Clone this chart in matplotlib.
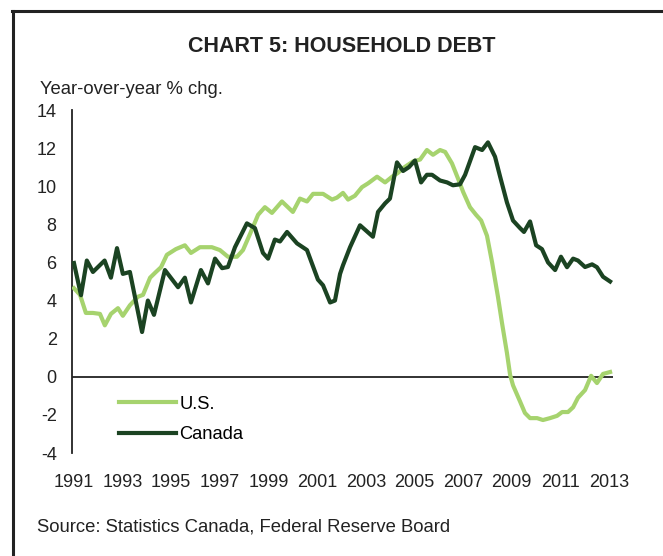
import matplotlib
matplotlib.use("Agg")
import matplotlib.pyplot as plt
from matplotlib.lines import Line2D

plt.rcParams['font.family'] = ['Liberation Sans', 'DejaVu Sans']

# Canada, year-over-year % change
can_year = [1991.00, 1991.29, 1991.53, 1991.78, 1992.26, 1992.52, 1992.77, 1993.01,
            1993.30, 1993.80, 1994.04, 1994.29, 1994.74, 1995.28, 1995.56, 1995.81,
            1996.22, 1996.51, 1996.80, 1997.09, 1997.33, 1997.62, 1998.11, 1998.44,
            1998.77, 1998.98, 1999.26, 1999.47, 1999.76, 2000.17, 2000.58, 2001.03,
            2001.24, 2001.53, 2001.73, 2001.94, 2002.06, 2002.35, 2002.76, 2003.29,
            2003.50, 2003.79, 2003.99, 2004.28, 2004.53, 2004.77, 2005.02, 2005.27,
            2005.51, 2005.72, 2006.05, 2006.34, 2006.58, 2006.87, 2007.08, 2007.49,
            2007.78, 2008.02, 2008.31, 2008.52, 2008.80, 2009.05, 2009.34, 2009.50,
            2009.75, 2010.00, 2010.24, 2010.49, 2010.78, 2011.02, 2011.27, 2011.52,
            2011.72, 2012.01, 2012.30, 2012.50, 2012.75, 2013.04]
can_val = [5.97, 4.28, 6.1, 5.5, 6.1, 5.2, 6.75, 5.4,
           5.5, 2.35, 4.0, 3.25, 5.6, 4.7, 5.2, 3.9,
           5.6, 4.9, 6.2, 5.7, 5.76, 6.8, 8.05, 7.8,
           6.5, 6.2, 7.2, 7.1, 7.6, 7.0, 6.65, 5.1,
           4.8, 3.9, 4.0, 5.4, 5.85, 6.8, 7.95, 7.35,
           8.65, 9.1, 9.35, 11.25, 10.8, 11.0, 11.35, 10.2,
           10.6, 10.6, 10.3, 10.2, 10.05, 10.1, 10.6, 12.05,
           11.9, 12.3, 11.55, 10.5, 9.15, 8.2, 7.8, 7.6,
           8.15, 6.9, 6.7, 6.0, 5.6, 6.3, 5.75, 6.2,
           6.1, 5.76, 5.9, 5.75, 5.25, 5.0]

# U.S., year-over-year % change
us_year = [1991.00, 1991.25, 1991.49, 1991.78, 1992.07, 1992.27, 1992.52, 1992.81,
           1993.01, 1993.30, 1993.63, 1993.84, 1994.13, 1994.37, 1994.58, 1994.82,
           1995.19, 1995.56, 1995.81, 1996.18, 1996.67, 1997.00, 1997.33, 1997.70,
           1997.95, 1998.24, 1998.57, 1998.85, 1999.14, 1999.55, 2000.00, 2000.29,
           2000.58, 2000.83, 2001.24, 2001.61, 2001.81, 2002.06, 2002.27, 2002.55,
           2002.84, 2003.09, 2003.46, 2003.79, 2004.08, 2004.32, 2004.53, 2004.94,
           2005.23, 2005.51, 2005.76, 2006.05, 2006.26, 2006.54, 2006.79, 2007.00,
           2007.28, 2007.53, 2007.74, 2007.98, 2008.19, 2008.43, 2008.60, 2008.80,
           2008.93, 2009.05, 2009.34, 2009.54, 2009.75, 2010.04, 2010.28, 2010.57,
           2010.86, 2011.07, 2011.31, 2011.52, 2011.72, 2012.01, 2012.26, 2012.50,
           2012.75, 2013.04]
us_val = [4.65, 4.3, 3.35, 3.35, 3.3, 2.7, 3.3, 3.6,
          3.2, 3.75, 4.2, 4.3, 5.2, 5.5, 5.75, 6.4,
          6.7, 6.9, 6.5, 6.8, 6.8, 6.65, 6.3, 6.3,
          6.65, 7.5, 8.5, 8.9, 8.6, 9.2, 8.65, 9.35,
          9.2, 9.6, 9.6, 9.3, 9.4, 9.65, 9.3, 9.5,
          9.95, 10.15, 10.5, 10.2, 10.5, 10.7, 10.95, 11.3,
          11.4, 11.9, 11.65, 11.9, 11.8, 11.2, 10.4, 9.7,
          8.9, 8.5, 8.2, 7.4, 6.0, 4.2, 2.8, 1.25,
          0.1, -0.45, -1.3, -1.9, -2.17, -2.17, -2.27, -2.17,
          -2.05, -1.85, -1.85, -1.6, -1.1, -0.7, 0.05, -0.33,
          0.15, 0.25]

x_ticks = list(range(1991, 2014, 2))
y_ticks = list(range(-4, 15, 2))

US_COLOR = "#A6D36E"
CAN_COLOR = "#1B4322"
TXT = "#222222"

W, H = 663, 556
fig = plt.figure(figsize=(W / 100, H / 100), dpi=100)
ax = fig.add_axes([72 / W, 1 - 453 / H, 541 / W, 343 / H])

ax.plot(us_year, us_val, color=US_COLOR, lw=3.0, solid_joinstyle="round", zorder=3)
ax.plot(can_year, can_val, color=CAN_COLOR, lw=3.0, solid_joinstyle="round", zorder=4)
ax.axhline(0, color=TXT, lw=1.3, zorder=2)

ax.set_xlim(1990.92, 2013.16)
ax.set_ylim(-4, 14)
ax.set_xticks(x_ticks)
ax.set_xticklabels([str(y) for y in x_ticks])
ax.set_yticks(y_ticks)
ax.set_yticklabels([str(y) for y in y_ticks])
ax.tick_params(axis="both", length=0, labelsize=13, colors=TXT)
ax.tick_params(axis="y", pad=11)
ax.tick_params(axis="x", pad=15)
for s in ("top", "right", "bottom"):
    ax.spines[s].set_visible(False)
ax.spines["left"].set_color(TXT)
ax.spines["left"].set_linewidth(1.3)

handles = [Line2D([], [], color=US_COLOR, lw=3.0),
           Line2D([], [], color=CAN_COLOR, lw=3.0)]
fig.legend(handles, ["U.S.", "Canada"], loc="center left",
           bbox_to_anchor=(119 / W, 1 - 419.5 / H), frameon=False,
           fontsize=13.2, handlelength=3.1, handletextpad=0.2,
           labelspacing=0.72, borderpad=0, borderaxespad=0)

fig.text(342 / W, 1 - 47 / H, "CHART 5: HOUSEHOLD DEBT", ha="center", va="center",
         fontsize=15.5, fontweight="bold", color=TXT)
fig.text(40 / W, 1 - 89 / H, "Year-over-year % chg.", ha="left", va="center",
         fontsize=13.3, color=TXT)
fig.text(37 / W, 1 - 527 / H, "Source: Statistics Canada, Federal Reserve Board",
         ha="left", va="center", fontsize=13.3, color=TXT)

# frame around the chart (top and left edges)
fig.add_artist(Line2D([13 / W, 13 / W], [0, 1 - 11 / H], color=TXT, lw=2.2,
                      transform=fig.transFigure))
fig.add_artist(Line2D([12 / W, 1], [1 - 11 / H, 1 - 11 / H], color=TXT, lw=2.2,
                      transform=fig.transFigure))

fig.savefig("out.png", dpi=100, facecolor="white")
